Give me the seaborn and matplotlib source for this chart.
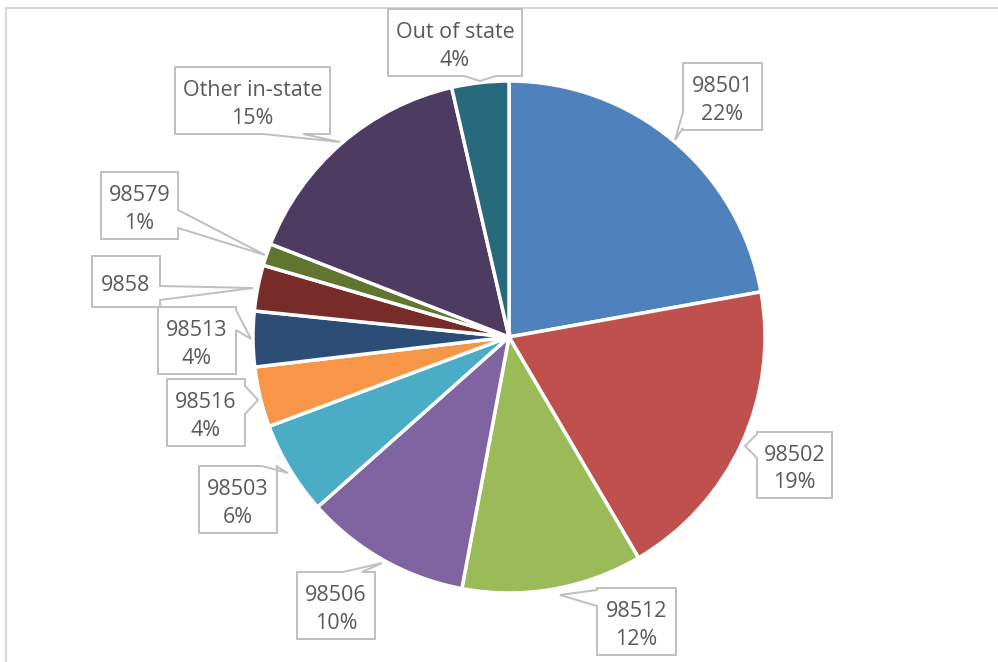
import matplotlib
matplotlib.use("Agg")
from matplotlib import pyplot as plt
from matplotlib.patches import Polygon, Rectangle
import seaborn as sns

# zip code shares, clockwise from 12 o'clock
zips = ["98501", "98502", "98512", "98506", "98503", "98516",
        "98513", "9858", "98579", "Other in-state", "Out of state"]
shares = [22.2, 19.4, 11.4, 10.5, 5.9, 3.8, 3.5, 2.9, 1.4, 15.5, 3.6]
pct_labels = ["22%", "19%", "12%", "10%", "6%", "4%", "4%", "", "1%", "15%", "4%"]
hex_colors = ["#4F81BD", "#C0504D", "#9BBB59", "#8064A2", "#4BACC6", "#F79646",
              "#2C4D75", "#772C2A", "#5F7530", "#4D3B62", "#276A7C"]

W, H = 998, 662

# callout layout in pixels: box (x0, y0, x1, y1), tip, side, notch range
callouts = {
    "98501": ((683, 63, 762, 130), (675, 140), "left", 112, 128),
    "98502": ((757, 432, 832, 498), (745, 446), "left", 434, 458),
    "98512": ((597, 588, 676, 655), (560, 595), "left", 590, 606),
    "98506": ((297, 572, 375, 639), (382, 563), "top", 343, 362),
    "98503": ((199, 466, 277, 533), (288, 473), "top", 262, 276),
    "98516": ((167, 379, 245, 446), (258, 400), "right", 386, 414),
    "98513": ((158, 307, 236, 374), (251, 339), "right", 310, 330),
    "9858": ((92, 256, 160, 307), (253, 288), "right", 286, 300),
    "98579": ((101, 172, 178, 239), (265, 255), "right", 210, 228),
    "Other in-state": ((175, 67, 330, 134), (340, 142), "bottom", 263, 303),
    "Out of state": ((388, 9, 522, 76), (480, 81), "bottom", 464, 496),
}


def fy(y):
    return H - y


def draw_callout(ax, box, tip, side, a, b, text):
    x0, y0, x1, y1 = box
    pts = [(x0, y0)]
    if side == "top":
        pts += [(a, y0), tip, (b, y0)]
    pts.append((x1, y0))
    if side == "right":
        pts += [(x1, a), tip, (x1, b)]
    pts.append((x1, y1))
    if side == "bottom":
        pts += [(b, y1), tip, (a, y1)]
    pts.append((x0, y1))
    if side == "left":
        pts += [(x0, b), tip, (x0, a)]
    poly = Polygon([(px, fy(py)) for px, py in pts], closed=True,
                   facecolor="white", edgecolor="#BFBFBF", linewidth=1.4, zorder=3)
    ax.add_patch(poly)
    ax.text((x0 + x1) / 2, fy((y0 + y1) / 2 + 4), text, ha="center", va="center",
            fontsize=15.5, color="#595959", linespacing=1.42, zorder=4)


sns.set_style("white")
plt.rcParams["font.family"] = ["Open Sans", "DejaVu Sans"]

fig = plt.figure(figsize=(W / 100, H / 100), dpi=100)
ax = fig.add_axes([0, 0, 1, 1])

ax.pie(shares, colors=sns.color_palette(hex_colors), startangle=90,
       counterclock=False, center=(509, fy(337)), radius=256, frame=True,
       wedgeprops=dict(edgecolor="white", linewidth=2.5))

for name, pct in zip(zips, pct_labels):
    box, tip, side, a, b = callouts[name]
    text = name if not pct else f"{name}\n{pct}"
    draw_callout(ax, box, tip, side, a, b, text)

# chart area border
ax.add_patch(Rectangle((6.5, fy(700)), 1100, 700 - 8, fill=False,
                       edgecolor="#D9D9D9", linewidth=1.5, zorder=1))

ax.set_xlim(0, W)
ax.set_ylim(0, H)
ax.set_aspect("equal")
ax.axis("off")

fig.savefig("out.png", dpi=100)
